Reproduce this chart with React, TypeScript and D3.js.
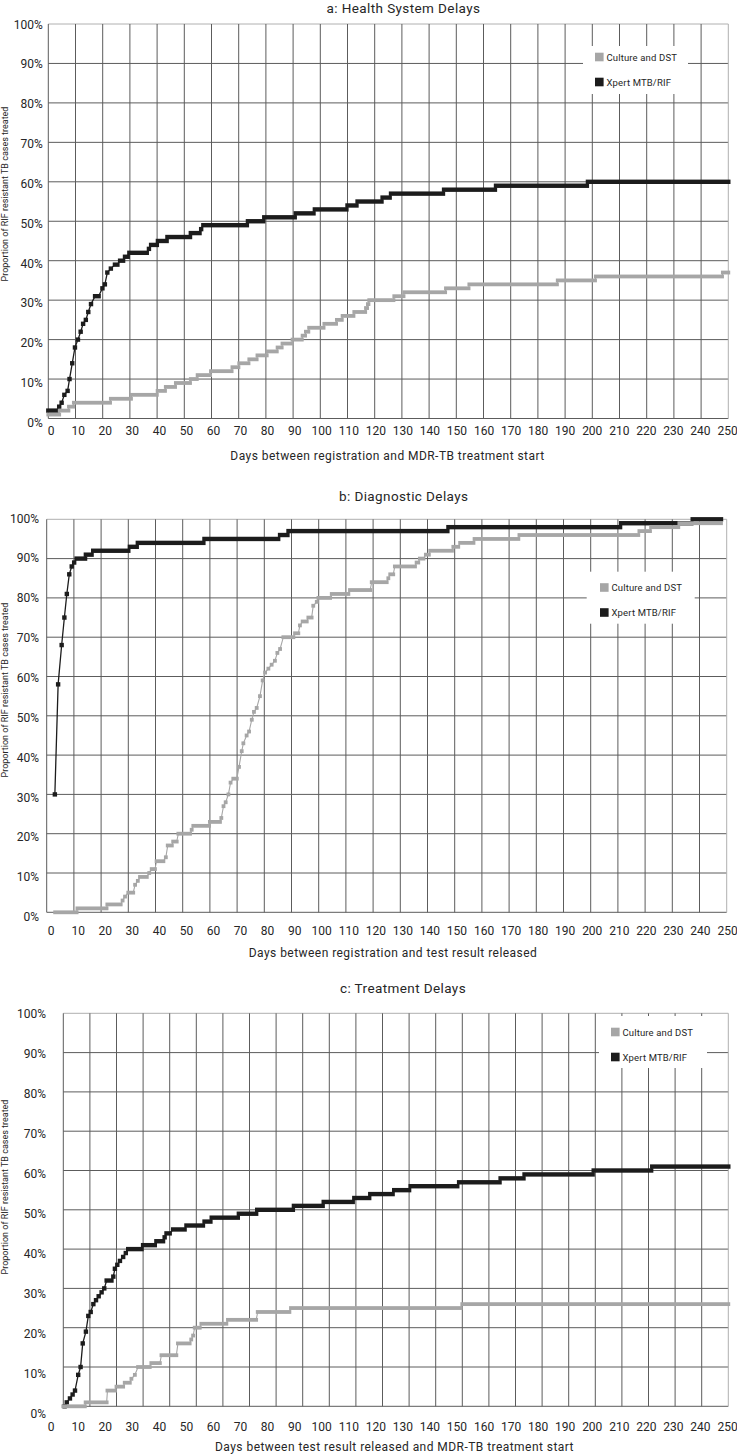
import * as d3 from "d3";
import { useEffect, useRef } from "react";

// each run: [first day, last day, cumulative % treated]
type Run = [number, number, number];

const dayTicks = [0, 10, 20, 30, 40, 50, 60, 70, 80, 90, 100, 110, 120, 130, 140, 150, 160, 170, 180, 190, 200, 210, 220, 230, 240, 250];
const pctTicks = [0, 10, 20, 30, 40, 50, 60, 70, 80, 90, 100];
const seriesNames = ["Culture and DST", "Xpert MTB/RIF"];
const yTitle = "Proportion of RIF resistant TB cases treated";

const healthCulture: Run[] = [
  [0, 4, 1], [4.2, 7.4, 2], [7.6, 9.2, 3], [9.4, 22.7, 4], [23, 30.4, 5], [30.7, 39.9, 6],
  [40.2, 42.9, 7], [43.2, 46.6, 8], [46.9, 52.1, 9], [52.4, 54.6, 10], [54.9, 59.5, 11],
  [59.8, 67.4, 12], [67.7, 69.9, 13], [70.2, 73.6, 14], [73.9, 76.6, 15], [76.9, 80.3, 16],
  [80.6, 84, 17], [84.3, 85.8, 18], [86.1, 89.5, 19], [89.8, 93.2, 20], [93.5, 94.4, 21],
  [94.7, 95.6, 22], [95.9, 101.2, 23], [101.5, 105.8, 24], [106.1, 107.9, 25], [108.2, 112.2, 26],
  [112.5, 116.5, 27], [116.8, 117.2, 28], [117.5, 117.7, 29], [118, 126.9, 30], [127.2, 130.6, 31],
  [130.9, 145.9, 32], [146.2, 154.5, 33], [154.8, 187, 34], [187.3, 201, 35], [201.3, 247.7, 36],
  [248, 250, 37],
];
const healthXpert: Run[] = [
  [0, 3, 2], [4, 4, 3], [4.9, 4.9, 4], [5.9, 5.9, 6], [7.1, 7.1, 7], [7.8, 7.8, 10], [8.8, 8.8, 14],
  [9.8, 9.8, 18], [10.9, 10.9, 20], [11.9, 11.9, 22], [12.8, 12.8, 24], [13.8, 13.8, 25],
  [14.7, 14.7, 27], [15.7, 15.7, 29], [17.2, 18.5, 31], [19.9, 19.9, 33], [20.8, 20.8, 34],
  [21.7, 21.7, 37], [23, 23, 38], [24.5, 25.4, 39], [26.4, 27.5, 40], [28.2, 29.2, 41],
  [29.8, 36.2, 42], [37, 37, 43], [37.8, 39.9, 44], [40.3, 43.5, 45], [43.8, 52.1, 46],
  [52.4, 55.6, 47], [56.2, 56.2, 48], [57, 73, 49], [73.4, 79, 50], [79.4, 90.6, 51],
  [91, 97.5, 52], [98, 109.6, 53], [110, 113.3, 54], [113.7, 122.5, 55], [122.9, 125.5, 56],
  [126, 145.1, 57], [145.5, 164.2, 58], [164.6, 198, 59], [198.4, 250, 60],
];

const diagCulture: Run[] = [
  [3.1, 11, 0], [11.3, 22, 1], [22.3, 27.2, 2], [27.9, 27.9, 3], [28.8, 28.8, 4], [30, 31.8, 5],
  [32.5, 32.5, 7], [33.5, 33.5, 8], [34.3, 36.8, 9], [37.7, 37.7, 10], [38.6, 39.8, 11],
  [40.4, 42.9, 13], [43.8, 43.8, 14], [44.5, 46, 17], [46.5, 47.8, 18], [48.4, 52.7, 20],
  [53.3, 53.3, 21], [53.9, 59.7, 22], [60, 63.7, 23], [64.2, 64.2, 24], [65, 65, 27],
  [65.8, 65.8, 28], [66.8, 66.8, 30], [67.6, 67.6, 33], [68.6, 69.9, 34], [70.7, 70.7, 37],
  [71.7, 71.7, 41], [72.3, 72.3, 43], [73.5, 73.5, 45], [74.4, 74.4, 46], [75.4, 75.4, 49],
  [76.2, 76.2, 51], [77.2, 77.2, 52], [78.4, 78.4, 55], [79.4, 79.4, 59], [80.3, 80.3, 61],
  [81.5, 81.5, 62], [82.7, 82.7, 63], [83.9, 83.9, 64], [84.8, 84.8, 66], [85.8, 85.8, 67],
  [87, 90.7, 70], [91.3, 92.5, 71], [93.1, 93.1, 73], [94.1, 95.6, 74], [96.2, 97.4, 75],
  [98, 98, 78], [99.3, 99.3, 79], [99.9, 104.2, 80], [104.8, 110.9, 81], [111.5, 118.9, 82],
  [119.5, 125, 84], [125.6, 125.6, 85], [126.3, 127.4, 86], [128, 135.4, 88], [136, 136.6, 89],
  [137.2, 138.5, 90], [139.4, 140.5, 91], [141, 149, 92], [149.5, 151.3, 93], [152, 156.9, 94],
  [157.3, 173.4, 95], [173.8, 217.5, 96], [217.9, 221.8, 97], [222.2, 232.2, 98], [232.6, 247.9, 99],
];
const diagXpert: Run[] = [
  [3, 3, 30], [4.2, 4.2, 58], [5.5, 5.5, 68], [6.5, 6.5, 75], [7.4, 7.4, 81], [8.3, 8.3, 86],
  [9.2, 9.2, 88], [10.1, 10.1, 89], [11, 14.1, 90], [14.4, 16.5, 91], [17.1, 30, 92],
  [30.6, 33.1, 93], [33.5, 57.6, 94], [58, 85.1, 95], [85.8, 88.5, 96], [88.9, 147.3, 97],
  [147.7, 210.8, 98], [211.2, 237, 99], [237.5, 247.9, 100],
];

const treatCulture: Run[] = [
  [0, 8.1, 0], [8.4, 16.3, 1], [16.6, 19.4, 4], [20, 22.5, 5], [23.1, 25, 6], [25.6, 25.6, 7],
  [26.9, 26.9, 8], [28.1, 32.5, 10], [33.1, 36.3, 11], [36.9, 42.5, 13], [43.1, 47.5, 16],
  [48.1, 48.1, 17], [48.8, 48.8, 18], [49.4, 51.3, 20], [51.9, 61.3, 21], [61.9, 72.5, 22],
  [73.1, 85, 24], [85.6, 149.4, 25], [150, 250, 26],
];
const treatXpert: Run[] = [
  [0.5, 0.5, 0], [1.3, 1.3, 1], [2.5, 2.5, 2], [3.5, 3.5, 3], [4.4, 4.4, 4], [5.6, 5.6, 8],
  [6.5, 6.5, 10], [7.3, 7.3, 16], [8.5, 8.5, 19], [9.4, 9.4, 23], [10.3, 10.3, 24],
  [11.3, 11.3, 26], [12.3, 12.3, 27], [13.3, 13.3, 28], [14.4, 14.4, 29], [15.4, 15.4, 30],
  [16.3, 18.1, 32], [18.8, 18.8, 33], [19.4, 19.4, 35], [20.3, 20.3, 36], [21.3, 21.3, 37],
  [22.5, 22.5, 38], [23.5, 23.5, 39], [24.4, 29.4, 40], [30, 34.4, 41], [35, 37.5, 42],
  [38.1, 38.1, 43], [38.8, 40, 44], [41.3, 45.6, 45], [46.3, 52.5, 46], [53.1, 55.3, 47],
  [55.8, 65.6, 48], [66, 72.5, 49], [72.9, 86.3, 50], [86.7, 97.5, 51], [97.9, 108.8, 52],
  [109.4, 115, 53], [115.4, 123.8, 54], [124.4, 130, 55], [130.6, 148.1, 56], [148.8, 164, 57],
  [164.4, 173, 58], [173.4, 199, 59], [199.4, 221, 60], [221.4, 250, 61],
];

// layout of the three stacked panels (pixel positions)
const panels = [
  {
    title: "a: Health System Delays", xTitle: "Days between registration and MDR-TB treatment start",
    culture: healthCulture, xpert: healthXpert,
    left: 48.3, right: 728.3, top: 24, bottom: 418.5, labTop: 24.2, labBottom: 422.7, yLabRight: 42.7,
    xLabTop: 426.7, titleX: 403.5, titleY: 12.5, xTitleX: 387.5, xTitleY: 460, yTitleY: 194,
    legend: { x: 583, y: 46, w: 105, h: 48, sx: 595, rows: [57, 82] },
  },
  {
    title: "b: Diagnostic Delays", xTitle: "Days between registration and test result released",
    culture: diagCulture, xpert: diagXpert,
    left: 46.7, right: 726.7, top: 519.3, bottom: 912.3, labTop: 518.3, labBottom: 916.7, yLabRight: 39,
    xLabTop: 926.4, titleX: 403.7, titleY: 501, xTitleX: 393, xTitleY: 956.5, yTitleY: 690,
    legend: { x: 586.7, y: 571.7, w: 108, h: 52, sx: 600, rows: [587.5, 612.5] },
  },
  {
    title: "c: Treatment Delays", xTitle: "Days between test result released and MDR-TB treatment start",
    culture: treatCulture, xpert: treatXpert,
    left: 63.3, right: 728.3, top: 1013.3, bottom: 1406.3, labTop: 1014, labBottom: 1413.3, yLabRight: 46,
    xLabTop: 1422.4, titleX: 403, titleY: 993, xTitleX: 394.5, xTitleY: 1451, yTitleY: 1187,
    legend: { x: 599, y: 1016, w: 108, h: 52, sx: 611, rows: [1032, 1057] },
  },
];

const GRAY = "#a6a6a6";
const BLACK = "#1c1c1c";
const INK = "#262626";

export default function App() {
  const ref = useRef<SVGSVGElement>(null);

  useEffect(() => {
    const svg = d3.select(ref.current);
    svg.selectAll("*").remove();

    panels.forEach((p) => {
      const g = svg.append("g");

      const x = d3.scaleLinear().domain([0, 250]).range([p.left, p.right]);
      const y = d3.scaleLinear().domain([0, 100]).range([p.bottom, p.top]);
      // the tick labels sit on a slightly different grid than the lines
      const xLab = d3.scaleLinear().domain([0, 250]).range([50.7, 727]);
      const yLab = d3.scaleLinear().domain([0, 100]).range([p.labBottom, p.labTop]);

      //  ---- grid ----
      g.append("g").selectAll("line").data(pctTicks).join("line")
        .attr("x1", p.left).attr("x2", p.right)
        .attr("y1", (d) => y(d)).attr("y2", (d) => y(d))
        .attr("stroke", (d) => (d === 100 ? "#b0b0b0" : "#5c5c5c"))
        .attr("stroke-width", 1);

      g.append("g").selectAll("line").data(dayTicks).join("line")
        .attr("x1", (d) => x(d)).attr("x2", (d) => x(d))
        .attr("y1", y(0)).attr("y2", y(100))
        .attr("stroke", (d) => (d === 250 ? "#b0b0b0" : "#5c5c5c"))
        .attr("stroke-width", 1);

      //  ---- legend box (blanks the grid) ----
      const L = p.legend;
      g.append("rect").attr("x", L.x).attr("y", L.y).attr("width", L.w).attr("height", L.h).attr("fill", "white");
      [GRAY, BLACK].forEach((c, i) => {
        g.append("rect").attr("x", L.sx).attr("y", L.rows[i] - 4.3).attr("width", 8.6).attr("height", 8.6).attr("fill", c);
        g.append("text").text(seriesNames[i])
          .attr("x", L.sx + 11.5).attr("y", L.rows[i] + 3.5)
          .attr("font-size", 9.5).attr("letter-spacing", 0.15).attr("fill", INK);
      });

      //  ---- series ----
      const drawSeries = (runs: Run[], color: string, size: number, lw: number) => {
        const pts: [number, number][] = runs.flatMap(([a, b, v]) =>
          a === b ? [[a, v] as [number, number]] : [[a, v] as [number, number], [b, v] as [number, number]]
        );
        const line = d3.line<[number, number]>().x((d) => x(d[0])).y((d) => y(d[1]));
        g.append("path").attr("d", line(pts)).attr("fill", "none").attr("stroke", color).attr("stroke-width", lw);
        g.append("g").selectAll("rect").data(runs).join("rect")
          .attr("x", (d) => x(d[0]) - size / 2)
          .attr("width", (d) => x(d[1]) - x(d[0]) + size)
          .attr("y", (d) => y(d[2]) - size / 2)
          .attr("height", size)
          .attr("fill", color);
      };
      drawSeries(p.xpert, BLACK, 4.4, 1.3);
      drawSeries(p.culture, GRAY, 3.8, 1.1);

      //  ---- axes labels ----
      const gx = g.append("g").attr("transform", `translate(0,${p.xLabTop})`)
        .call(d3.axisBottom(xLab).tickValues(dayTicks).tickSize(0).tickPadding(0).tickFormat((d) => String(d)));
      gx.select(".domain").remove();
      gx.selectAll("text").attr("font-size", 12).attr("font-family", "Roboto").attr("fill", INK);

      const gy = g.append("g").attr("transform", `translate(${p.yLabRight},0)`)
        .call(d3.axisLeft(yLab).tickValues(pctTicks).tickSize(0).tickPadding(0).tickFormat((d) => d + "%"));
      gy.select(".domain").remove();
      gy.selectAll("text").attr("font-size", 12).attr("font-family", "Roboto").attr("fill", INK);

      g.append("text").text(p.title)
        .attr("x", p.titleX).attr("y", p.titleY).attr("text-anchor", "middle")
        .attr("font-size", 13.5).attr("letter-spacing", 0.4).attr("fill", INK);

      g.append("text").text(p.xTitle)
        .attr("x", p.xTitleX).attr("y", p.xTitleY).attr("text-anchor", "middle")
        .attr("font-size", 12).attr("letter-spacing", 0.45).attr("fill", INK);

      g.append("text").text(yTitle)
        .attr("transform", `translate(7.5,${p.yTitleY}) rotate(-90)`)
        .attr("text-anchor", "middle")
        .attr("font-size", 9).attr("fill", INK);
    });
  }, []);

  return (
    <svg
      ref={ref}
      width={737}
      height={1456}
      style={{ position: "absolute", left: 0, top: 0, background: "white", fontFamily: "Roboto" }}
    />
  );
}
